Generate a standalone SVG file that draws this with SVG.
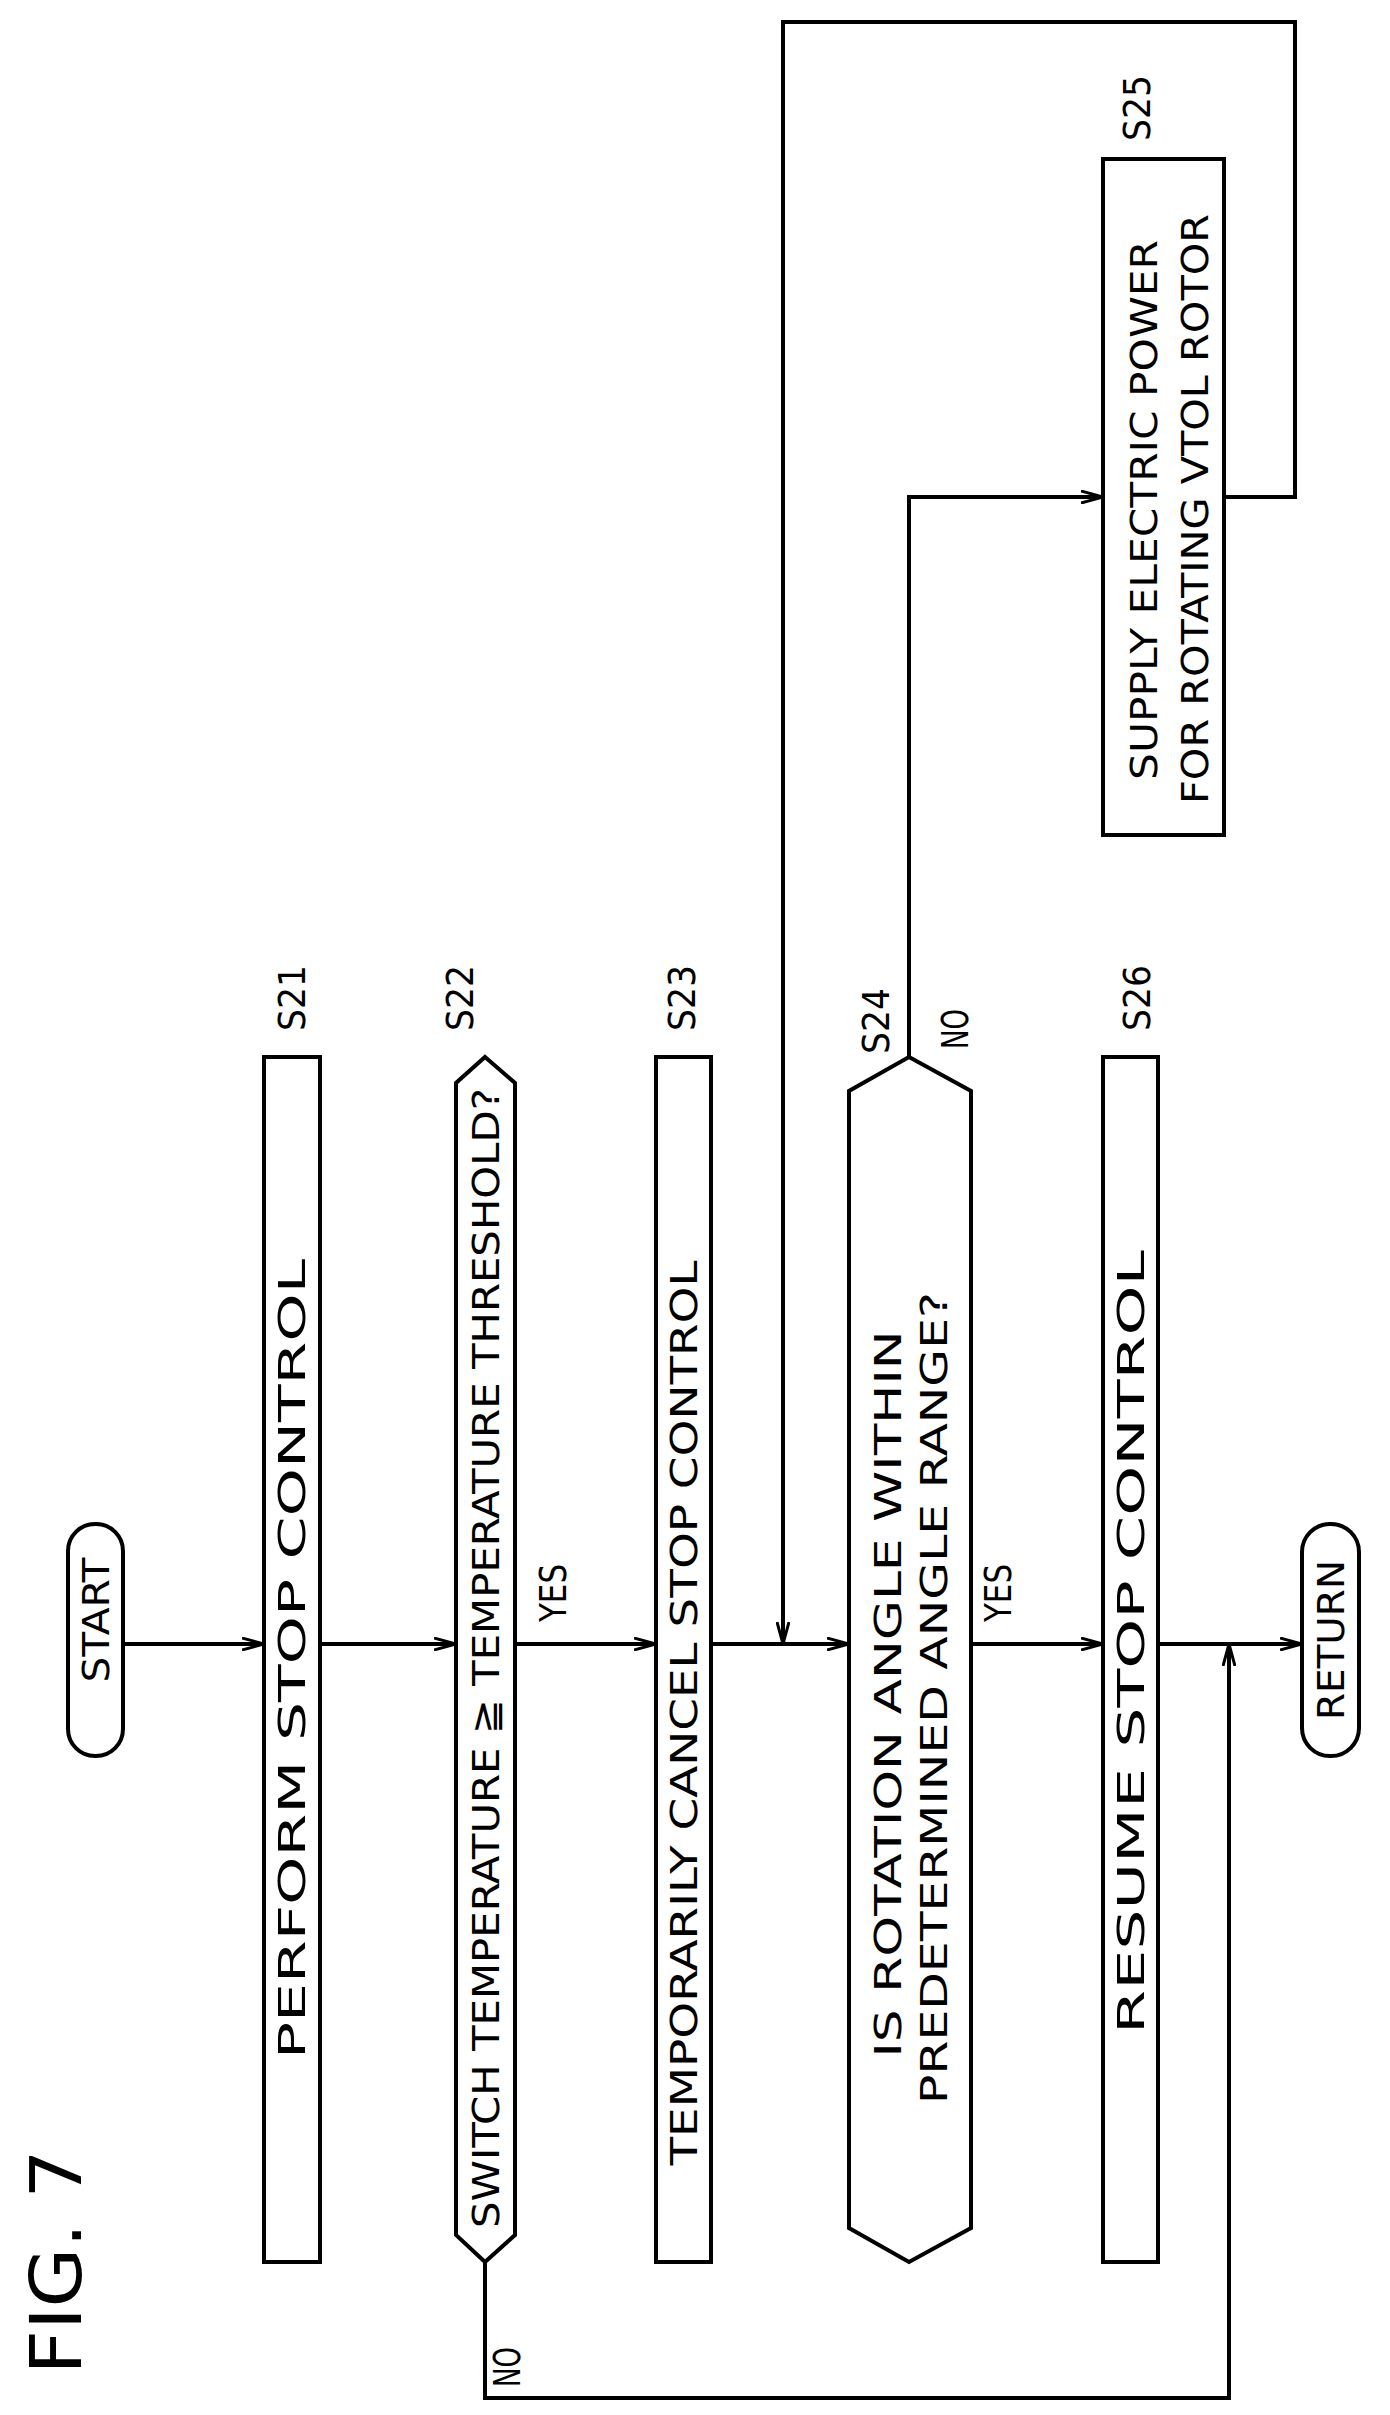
<svg xmlns="http://www.w3.org/2000/svg" width="1390" height="2415" viewBox="0 0 1390 2415">
<style>
.s{fill:#fff;stroke:#000;stroke-width:4}
.c{fill:none;stroke:#000;stroke-width:4}
text{font-family:"DejaVu Sans Condensed","Liberation Sans",Arial,sans-serif;font-size:38px;text-anchor:middle;dominant-baseline:central;fill:#000}
</style>
<defs>
<marker id="a" viewBox="0 0 22 14" refX="22" refY="7" markerWidth="22" markerHeight="14" markerUnits="userSpaceOnUse" orient="auto"><path d="M0,1 L22,7 L0,13" fill="none" stroke="#000" stroke-width="3"/></marker>
</defs>
<rect width="1390" height="2415" fill="#fff"/>
<text transform="translate(56,2262) rotate(-90)" style="font-size:72px" textLength="225" lengthAdjust="spacingAndGlyphs">FIG. 7</text>
<g id="connectors">
<path class="c" d="M123,1644 H264" marker-end="url(#a)"/>
<path class="c" d="M320,1644 H456" marker-end="url(#a)"/>
<path class="c" d="M515,1644 H656" marker-end="url(#a)"/>
<path class="c" d="M711,1644 H849" marker-end="url(#a)"/>
<path class="c" d="M971,1644 H1103" marker-end="url(#a)"/>
<path class="c" d="M1158,1644 H1302" marker-end="url(#a)"/>
<path class="c" d="M909,1057 V497 H1103" marker-end="url(#a)"/>
<path class="c" d="M1224,497 H1295 V22 H783 V1644" marker-end="url(#a)"/>
<path class="c" d="M485,2262 V2398 H1229 V1644" marker-end="url(#a)"/>
<text transform="translate(553,1593) rotate(-90)" textLength="58" lengthAdjust="spacingAndGlyphs">YES</text>
<text transform="translate(998,1593) rotate(-90)" textLength="58" lengthAdjust="spacingAndGlyphs">YES</text>
<text transform="translate(507,2367) rotate(-90)" textLength="40" lengthAdjust="spacingAndGlyphs">NO</text>
<text transform="translate(955,1029) rotate(-90)" textLength="40" lengthAdjust="spacingAndGlyphs">NO</text>
</g>
<g id="start">
<rect class="s" x="68" y="1524" width="55" height="232" rx="27"/>
<text transform="translate(96,1620) rotate(-90)" textLength="125" lengthAdjust="spacingAndGlyphs">START</text>
</g>
<g id="s21">
<rect class="s" x="264" y="1057" width="56" height="1205"/>
<text transform="translate(292,1659) rotate(-90)" textLength="800" lengthAdjust="spacingAndGlyphs">PERFORM STOP CONTROL</text>
<text transform="translate(292,998) rotate(-90)" textLength="66" lengthAdjust="spacingAndGlyphs">S21</text>
</g>
<g id="s22">
<polygon class="s" points="485,1057 515,1083 515,2235 485,2262 456,2235 456,1083"/>
<text transform="translate(486,1658) rotate(-90)" textLength="1140" lengthAdjust="spacingAndGlyphs">SWITCH TEMPERATURE ≧ TEMPERATURE THRESHOLD?</text>
<text transform="translate(460,998) rotate(-90)" textLength="66" lengthAdjust="spacingAndGlyphs">S22</text>
</g>
<g id="s23">
<rect class="s" x="656" y="1057" width="55" height="1205"/>
<text transform="translate(684,1713) rotate(-90)" textLength="905" lengthAdjust="spacingAndGlyphs">TEMPORARILY CANCEL STOP CONTROL</text>
<text transform="translate(682,998) rotate(-90)" textLength="66" lengthAdjust="spacingAndGlyphs">S23</text>
</g>
<g id="s24">
<polygon class="s" points="909,1057 971,1091 971,2228 909,2262 849,2228 849,1091"/>
<text transform="translate(888,1694) rotate(-90)" textLength="727" lengthAdjust="spacingAndGlyphs">IS ROTATION ANGLE WITHIN</text>
<text transform="translate(934,1698) rotate(-90)" textLength="812" lengthAdjust="spacingAndGlyphs">PREDETERMINED ANGLE RANGE?</text>
<text transform="translate(876,1021) rotate(-90)" textLength="66" lengthAdjust="spacingAndGlyphs">S24</text>
</g>
<g id="s25">
<rect class="s" x="1103" y="159" width="121" height="676"/>
<text transform="translate(1144,510) rotate(-90)" textLength="540" lengthAdjust="spacingAndGlyphs">SUPPLY ELECTRIC POWER</text>
<text transform="translate(1195,509) rotate(-90)" textLength="590" lengthAdjust="spacingAndGlyphs">FOR ROTATING VTOL ROTOR</text>
<text transform="translate(1137,108) rotate(-90)" textLength="66" lengthAdjust="spacingAndGlyphs">S25</text>
</g>
<g id="s26">
<rect class="s" x="1103" y="1057" width="55" height="1205"/>
<text transform="translate(1131,1642) rotate(-90)" textLength="784" lengthAdjust="spacingAndGlyphs">RESUME STOP CONTROL</text>
<text transform="translate(1137,998) rotate(-90)" textLength="66" lengthAdjust="spacingAndGlyphs">S26</text>
</g>
<g id="return">
<rect class="s" x="1302" y="1524" width="57" height="232" rx="28"/>
<text transform="translate(1331,1640) rotate(-90)" textLength="160" lengthAdjust="spacingAndGlyphs">RETURN</text>
</g>
</svg>
